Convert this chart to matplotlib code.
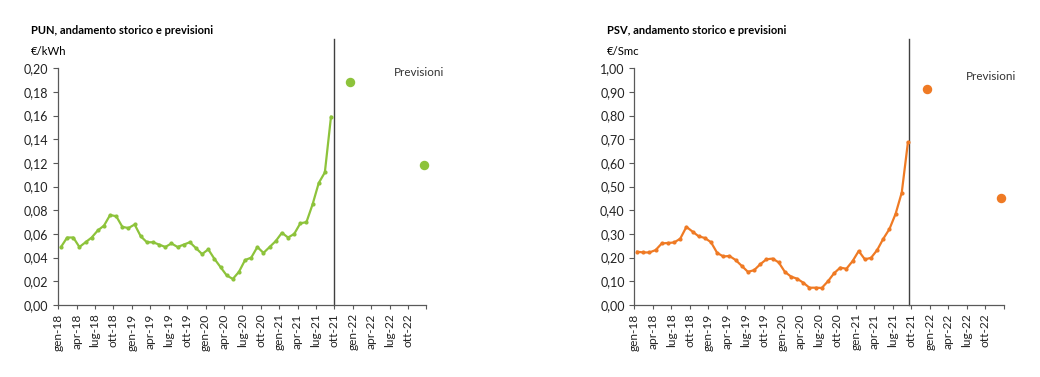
import matplotlib
matplotlib.use('Agg')
import matplotlib.pyplot as plt
from matplotlib.ticker import FuncFormatter, MultipleLocator

plt.rcParams['font.family'] = ['Lato', 'DejaVu Sans']

# mesi gen-18 .. set-21
mesi = ['gen', 'feb', 'mar', 'apr', 'mag', 'giu', 'lug', 'ago', 'set', 'ott', 'nov', 'dic']
anni = ['18', '19', '20', '21', '22']

pun = [0.049, 0.057, 0.057, 0.049, 0.053, 0.057, 0.063, 0.067, 0.076, 0.075, 0.066, 0.065,
       0.068, 0.058, 0.053, 0.053, 0.051, 0.049, 0.052, 0.049, 0.051, 0.053, 0.048, 0.043,
       0.047, 0.039, 0.032, 0.025, 0.022, 0.028, 0.038, 0.040, 0.049, 0.044, 0.049, 0.054,
       0.061, 0.057, 0.060, 0.069, 0.070, 0.085, 0.103, 0.112, 0.159]
pun_prev = [0.188, 0.118]

psv = [0.225, 0.222, 0.222, 0.232, 0.260, 0.262, 0.264, 0.280, 0.330, 0.310, 0.290, 0.283,
       0.265, 0.220, 0.205, 0.207, 0.190, 0.165, 0.140, 0.147, 0.172, 0.193, 0.196, 0.180,
       0.140, 0.120, 0.111, 0.094, 0.073, 0.073, 0.072, 0.100, 0.134, 0.158, 0.153, 0.185,
       0.228, 0.193, 0.199, 0.232, 0.280, 0.321, 0.385, 0.475, 0.687]
psv_prev = [0.911, 0.451]

# posizione (in mesi da gen-18) delle due previsioni
prev_x = [47.5, 59.6]

tick_labels = [f'{mesi[m]}-{a}' for a in anni for m in (0, 3, 6, 9)]

GREEN = '#8dc33b'
ORANGE = '#ef7a24'
AXC = '#595959'


def comma(v, pos):
    return f'{v:.2f}'.replace('.', ',')


def draw(ax, values, prev, color, ymax, ystep, vline_x, prev_pos, title, unit):
    xs = [i + 0.45 for i in range(len(values))]
    ax.plot(xs, values, color=color, lw=1.6, marker='o', ms=2.0,
            mfc=color, mec=color, zorder=3)
    ax.plot(prev_x, prev, 'o', color=color, ms=5.8, zorder=3, clip_on=False)
    ax.plot([vline_x, vline_x], [0, ymax * 1.122], color='#404040', lw=1.0,
            clip_on=False, zorder=2)

    ax.set_xlim(0, 60)
    ax.set_ylim(0, ymax)
    ax.yaxis.set_major_locator(MultipleLocator(ystep))
    ax.yaxis.set_major_formatter(FuncFormatter(comma))
    ax.set_xticks(range(0, 61, 3))
    ax.set_xticklabels(tick_labels + [''], rotation=90, fontsize=8.6)
    ax.tick_params(axis='y', labelsize=9, length=3.5, width=0.8, color=AXC,
                   pad=3.5, labelcolor='#222222')
    ax.tick_params(axis='x', length=3, width=0.8, color=AXC, pad=3,
                   labelcolor='#222222')
    for s in ('top', 'right'):
        ax.spines[s].set_visible(False)
    for s in ('left', 'bottom'):
        ax.spines[s].set_color(AXC)
        ax.spines[s].set_linewidth(0.9)

    ax.text(-0.075, 1.16, title, transform=ax.transAxes, fontsize=8,
            fontweight='bold', ha='left', va='center')
    ax.text(-0.075, 1.07, unit, transform=ax.transAxes, fontsize=8.2,
            ha='left', va='center')
    ax.text(prev_pos[0], prev_pos[1], 'Previsioni', transform=ax.transAxes,
            fontsize=8.4, ha='center', va='center', color='#333333')


fig = plt.figure(figsize=(10.4, 3.77), dpi=100)
ax1 = fig.add_axes([0.056, 0.191, 0.354, 0.628])
ax2 = fig.add_axes([0.610, 0.191, 0.355, 0.628])

draw(ax1, pun, pun_prev, GREEN, 0.20, 0.02, 44.95, (0.979, 0.981),
     'PUN, andamento storico e previsioni', '€/kWh')
draw(ax2, psv, psv_prev, ORANGE, 1.00, 0.10, 44.6, (0.967, 0.967),
     'PSV, andamento storico e previsioni', '€/Smc')

fig.savefig('out.png', dpi=100)
